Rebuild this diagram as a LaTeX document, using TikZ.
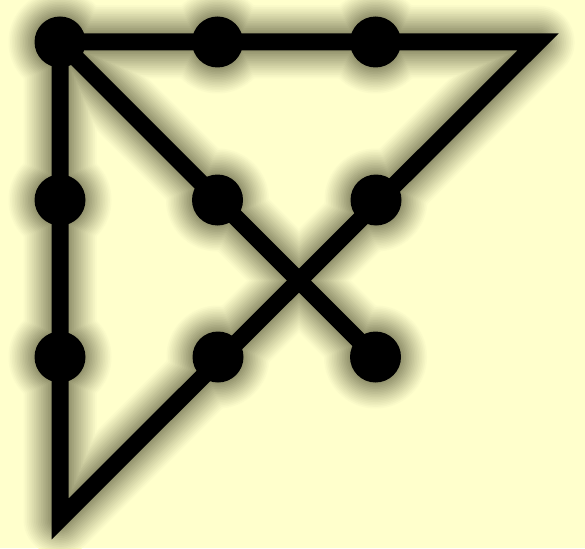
\documentclass[tikz,border=0pt]{standalone}
\definecolor{bg}{RGB}{255,255,204}
\definecolor{glowc}{RGB}{150,150,112}
\tikzset{
  dot/.style={circle, fill=black, inner sep=0pt, minimum size=51pt},
  puzzleline/.style={line width=17pt, black, line join=miter, miter limit=10}
}
\begin{document}
\begin{tikzpicture}[x=1pt,y=-1pt]
\fill[bg] (0,0) rectangle (585,548);
\useasboundingbox (0,0) rectangle (585,548);
% grid positions
\coordinate (p11) at (60,42);
\coordinate (p12) at (217.5,42);
\coordinate (p13) at (375.5,42);
\coordinate (p21) at (60,200);
\coordinate (p22) at (217.5,200);
\coordinate (p23) at (376,200);
\coordinate (p31) at (60,357);
\coordinate (p32) at (218,357);
\coordinate (p33) at (375.5,357);
\coordinate (tr) at (538,42);
\coordinate (bl) at (60,519);
% glow
\foreach \i in {0,...,15}{
  \pgfmathsetmacro\w{17+56*(1-\i/16)}
  \pgfmathsetmacro\r{25.5+26*(1-\i/16)}
  \pgfmathsetmacro\p{100*((\i+1)/16)^1.1}
  \draw[line width=\w pt, glowc!\p!bg, line join=round, line cap=round]
    (p11) -- (tr) -- (bl) -- cycle (p11) -- (p33);
  \foreach \d in {p11,p12,p13,p21,p22,p23,p31,p32,p33}
    \fill[glowc!\p!bg] (\d) circle[radius=\r];
}
% dots
\node[dot] (d11) at (p11) {};
\node[dot] (d12) at (p12) {};
\node[dot] (d13) at (p13) {};
\node[dot] (d21) at (p21) {};
\node[dot] (d22) at (p22) {};
\node[dot] (d23) at (p23) {};
\node[dot] (d31) at (p31) {};
\node[dot] (d32) at (p32) {};
\node[dot] (d33) at (p33) {};
% lines
\draw[puzzleline] (d11.center) -- (tr) -- (bl) -- cycle;
\draw[puzzleline] (d11.center) -- (d33.center);
\end{tikzpicture}
\end{document}
